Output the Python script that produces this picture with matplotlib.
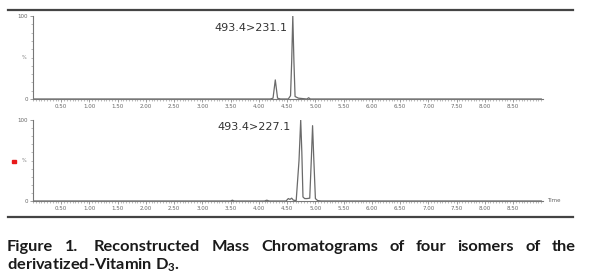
import matplotlib
matplotlib.use("Agg")
import matplotlib.pyplot as plt
import numpy as np
from matplotlib.ticker import MultipleLocator, FixedLocator

# ---- data ----
top_label = "493.4>231.1"
top_time = [0.0, 4.20, 4.25, 4.27, 4.29, 4.31, 4.33, 4.38, 4.52, 4.56, 4.58, 4.60, 4.62, 4.64, 4.70, 4.85, 4.88, 4.91, 9.0]
top_int = [0.0, 0.0, 1.0, 12.0, 23.0, 12.0, 1.0, 0.0, 0.0, 4.0, 45.0, 100.0, 45.0, 3.0, 1.0, 0.0, 1.5, 0.0, 0.0]

bot_label = "493.4>227.1"
bot_time = [0.0, 3.50, 3.53, 3.56, 4.10, 4.14, 4.18, 4.48, 4.52, 4.55, 4.58, 4.61, 4.66, 4.71, 4.74, 4.76, 4.78, 4.81,
            4.85, 4.90, 4.93, 4.95, 4.97, 5.00, 5.04, 5.10, 9.0]
bot_int = [0.0, 0.0, 1.0, 0.0, 0.0, 1.0, 0.0, 0.0, 3.0, 2.0, 3.5, 1.0, 0.5, 50.0, 100.0, 60.0, 5.0, 3.0,
           3.0, 3.5, 55.0, 93.0, 55.0, 3.0, 0.5, 0.0, 0.0]

xmax = 9.03
xtick_vals = [0.5, 1.0, 1.5, 2.0, 2.5, 3.0, 3.5, 4.0, 4.5, 5.0, 5.5, 6.0, 6.5, 7.0, 7.5, 8.0, 8.5]
xtick_labels = ["0.50", "1.00", "1.50", "2.00", "2.50", "3.00", "3.50", "4.00", "4.50",
                "5.00", "5.50", "6.00", "6.50", "7.00", "7.50", "8.00", "8.50"]

caption1 = ["Figure", "1.", "Reconstructed", "Mass", "Chromatograms", "of", "four", "isomers", "of", "the"]
caption2 = r"derivatized-Vitamin D$_\mathregular{3}$."

W, H = 600, 278
fig = plt.figure(figsize=(W / 100, H / 100), dpi=100)


def px_axes(x0, ytop, x1, ybot):
    return fig.add_axes([x0 / W, (H - ybot) / H, (x1 - x0) / W, (ybot - ytop) / H])


def style(ax, t, y, label, label_xy, time_label=False):
    ax.plot(t, y, color="#6a6a6a", lw=0.9)
    ax.set_xlim(0, xmax)
    ax.set_ylim(0, 100)
    for s in ("top", "right"):
        ax.spines[s].set_visible(False)
    for s in ("left", "bottom"):
        ax.spines[s].set_color("#777777")
        ax.spines[s].set_linewidth(0.8)
    ax.xaxis.set_major_locator(FixedLocator(xtick_vals))
    ax.set_xticklabels(xtick_labels)
    ax.xaxis.set_minor_locator(MultipleLocator(0.05))
    ax.yaxis.set_major_locator(FixedLocator([0, 100]))
    ax.set_yticklabels(["0", "100"])
    ax.yaxis.set_minor_locator(MultipleLocator(10))
    ax.tick_params(axis="both", which="major", length=2, width=0.5, color="#777777",
                   labelsize=4, labelcolor="#666666", pad=1.5)
    ax.tick_params(axis="both", which="minor", length=1.2, width=0.4, color="#888888")
    ax.patch.set_alpha(0)
    ax.text(-0.12, 50, "%", fontsize=3.5, color="#777777", ha="right", va="center")
    ax.text(label_xy[0], label_xy[1], label, fontsize=8, color="#333333",
            ha="left", va="center")
    if time_label:
        ax.text(xmax + 0.07, 0, "Time", fontsize=4, color="#666666", ha="left", va="center",
                clip_on=False)


ax1 = px_axes(33, 16, 543, 99)
style(ax1, top_time, top_int, top_label, (3.22, 86))
ax2 = px_axes(33, 120, 543, 201)
style(ax2, bot_time, bot_int, bot_label, (3.26, 91), time_label=True)

# red marker
fig.patches.append(plt.Rectangle((12 / W, (H - 162.5) / H), 4 / W, 3 / H,
                                 transform=fig.transFigure, color="#e8191a"))

# horizontal rules
for yy in (10, 217):
    fig.add_artist(plt.Line2D([8 / W, 573 / W], [(H - yy) / H, (H - yy) / H],
                              transform=fig.transFigure, color="#444444", lw=1.6))

# caption (justified first line)
cap_kw = dict(fontsize=11.8, fontweight="bold", family=["Lato", "DejaVu Sans"], color="#1a1a1a")
fig.canvas.draw()
r = fig.canvas.get_renderer()
words = caption1
texts = [fig.text(0, 0, w, va="baseline", **cap_kw) for w in words]
widths = [t.get_window_extent(r).width for t in texts]
x_left, x_right = 7, 576
gaps = len(words) - 1
extra_after = {1: 5.0}  # wider space after "1."
gap = (x_right - x_left - sum(widths) - sum(extra_after.values())) / gaps
x = x_left
y1 = H - 251
for i, (t, w) in enumerate(zip(texts, widths)):
    t.set_position((x / W, y1 / H))
    x += w + gap + extra_after.get(i, 0)

fig.text(x_left / W, (H - 269.5) / H, caption2, va="baseline", **cap_kw)

fig.savefig("out.png", dpi=100)
